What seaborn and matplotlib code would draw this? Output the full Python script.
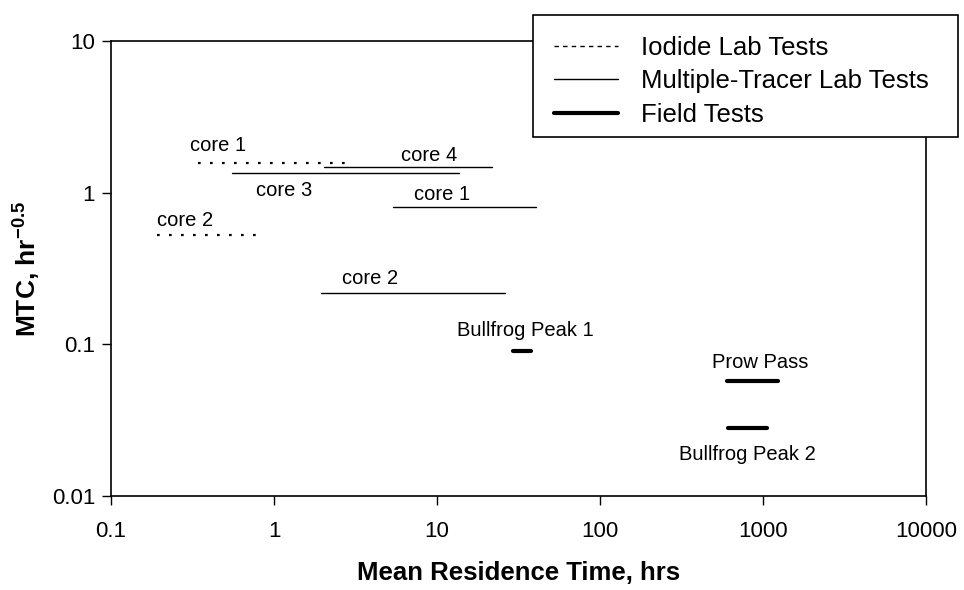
import matplotlib
matplotlib.use("Agg")
import matplotlib.pyplot as plt
import seaborn as sns
import pandas as pd
from matplotlib.lines import Line2D
from matplotlib.patches import Rectangle

# ---- data ----
seg_names = ["core 1", "core 2", "core 3", "core 4", "core 1", "core 2",
             "Bullfrog Peak 1", "Prow Pass", "Bullfrog Peak 2"]
seg_types = ["Iodide Lab Tests", "Iodide Lab Tests",
             "Multiple-Tracer Lab Tests", "Multiple-Tracer Lab Tests",
             "Multiple-Tracer Lab Tests", "Multiple-Tracer Lab Tests",
             "Field Tests", "Field Tests", "Field Tests"]
time_start = [0.342, 0.191, 0.552, 2.03, 5.37, 1.94, 29.3, 601, 610]
time_end = [2.92, 0.81, 13.6, 21.7, 40.5, 26.1, 37.7, 1236, 1059]
mtc = [1.57, 0.526, 1.34, 1.48, 0.805, 0.218, 0.090, 0.0574, 0.0281]

legend_labels = ["Iodide Lab Tests", "Multiple-Tracer Lab Tests", "Field Tests"]
x_ticks = [0.1, 1, 10, 100, 1000, 10000]
x_tick_labels = ["0.1", "1", "10", "100", "1000", "10000"]
y_ticks = [0.01, 0.1, 1, 10]
y_tick_labels = ["0.01", "0.1", "1", "10"]

# ---- layout (label anchor positions in data coords) ----
label_x = [0.453, 0.284, 1.15, 8.93, 10.7, 3.88, 34.7, 959, 798]
label_y = [2.06, 0.66, 1.04, 1.77, 0.966, 0.27, 0.1226, 0.0764, 0.0189]

styles = {
    "Iodide Lab Tests": dict(lw=1.6, ls=(0, (1.2, 4.2))),
    "Multiple-Tracer Lab Tests": dict(lw=1.0, ls="-"),
    "Field Tests": dict(lw=3.0, ls="-"),
}
legend_styles = {
    "Iodide Lab Tests": dict(lw=1.0, ls=(0, (3.2, 3.0))),
    "Multiple-Tracer Lab Tests": dict(lw=1.0, ls="-"),
    "Field Tests": dict(lw=3.0, ls="-"),
}

sns.set_theme(style="white")
plt.rcParams["font.family"] = ["Liberation Sans", "DejaVu Sans"]
plt.rcParams["mathtext.fontset"] = "custom"
plt.rcParams["mathtext.rm"] = "Liberation Sans"
plt.rcParams["mathtext.bf"] = "Liberation Sans:bold"

fig = plt.figure(figsize=(9.64, 5.90), dpi=100)
W, H = 964, 590
ax = fig.add_axes([111 / W, 1 - 496 / H, (926 - 111) / W, (496 - 41) / H])

rows = []
for i, (t0, t1, m, typ) in enumerate(zip(time_start, time_end, mtc, seg_types)):
    rows.append(dict(seg=i, time=t0, mtc=m, type=typ))
    rows.append(dict(seg=i, time=t1, mtc=m, type=typ))
df = pd.DataFrame(rows)

for i, sub in df.groupby("seg"):
    st = styles[sub["type"].iloc[0]]
    sns.lineplot(data=sub, x="time", y="mtc", ax=ax, color="black",
                 linewidth=st["lw"], linestyle=st["ls"], estimator=None,
                 sort=False, legend=False)

for name, lx, ly in zip(seg_names, label_x, label_y):
    ax.text(lx, ly, name, ha="center", va="center", fontsize=14.5, color="black")

ax.set_xscale("log")
ax.set_yscale("log")
ax.set_xlim(0.1, 10000)
ax.set_ylim(0.01, 10)
ax.set_xticks(x_ticks)
ax.set_xticklabels(x_tick_labels)
ax.set_yticks(y_ticks)
ax.set_yticklabels(y_tick_labels)
ax.minorticks_off()
ax.tick_params(axis="both", which="major", direction="out", length=6.5,
               width=1, color="black", labelsize=16, labelcolor="black",
               bottom=True, left=True)
ax.tick_params(axis="x", pad=11.5)
ax.tick_params(axis="y", pad=5)
for s in ["top", "right", "left", "bottom"]:
    ax.spines[s].set_visible(True)
    ax.spines[s].set_color("black")
    ax.spines[s].set_linewidth(1.2)
ax.grid(False)
ax.set_facecolor("white")

ax.set_xlabel("Mean Residence Time, hrs", fontsize=18.5, fontweight="bold",
              color="black")
ax.xaxis.set_label_coords(0.5, -0.142)
ax.xaxis.label.set_va("top")
ax.set_ylabel(r"MTC, hr$^{\mathbf{-0.5}}$", fontsize=19, fontweight="bold",
              color="black")
ax.yaxis.set_label_coords(-0.085, 0.5)

# legend frame
frame = Rectangle((533 / W, 1 - 137 / H), (958 - 533) / W, (137 - 15) / H,
                  transform=fig.transFigure, facecolor="white",
                  edgecolor="black", linewidth=1.2, zorder=3)
fig.patches.append(frame)

handles = [Line2D([0], [0], color="black", lw=legend_styles[k]["lw"],
                  ls=legend_styles[k]["ls"]) for k in legend_labels]
leg = fig.legend(handles, legend_labels,
                 loc="upper left", bbox_to_anchor=(533 / W, 1 - 15 / H),
                 fontsize=18.5, frameon=False, labelcolor="black",
                 handlelength=2.5, handletextpad=0.9,
                 labelspacing=0.38, borderpad=0.8, borderaxespad=0)
leg.set_zorder(4)

fig.savefig("out.png", dpi=100, facecolor="white")
